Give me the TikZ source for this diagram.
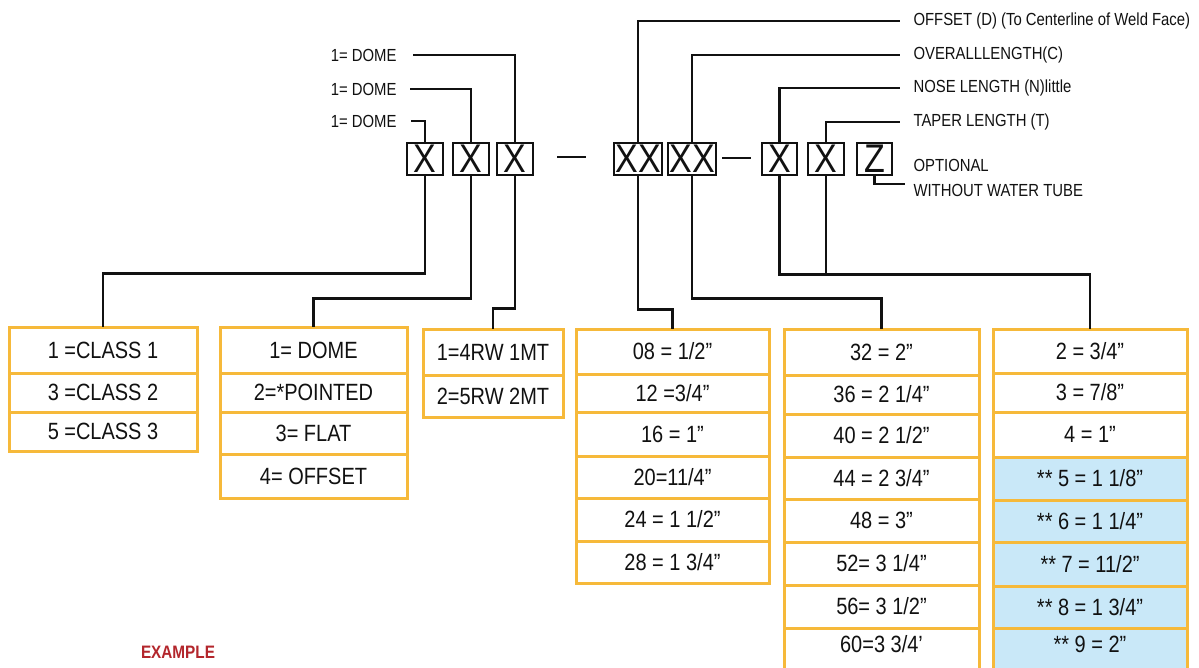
\documentclass[tikz,border=0pt]{standalone}
\usepackage{fontspec}
\setmainfont{Liberation Sans}[FakeStretch=0.85]
\usepackage{xcolor}
\definecolor{Ink}{HTML}{111111}
\definecolor{Amber}{HTML}{F6B93A}
\definecolor{Sky}{HTML}{C9E8F8}
\definecolor{Brick}{HTML}{B3262C}
\tikzset{
  codebox/.style={draw=Ink,line width=2.2pt,inner sep=0pt,minimum width=36,minimum height=32,
    font=\fontsize{40}{40}\selectfont,text=Ink},
  cell/.style={draw=Amber,line width=3pt,inner sep=0pt,outer sep=0pt,
    font=\fontsize{23.5}{26}\selectfont,text=Ink},
  hot/.style={cell,fill=Sky},
  lastrow/.style={text depth=12pt},
  tag/.style={font=\fontsize{17.5}{20}\selectfont,text=Ink},
  wire/.style={draw=Ink,line width=2.8pt}
}
\begin{document}
\begin{tikzpicture}[x=1pt,y=-1pt]
\path[use as bounding box,fill=white] (0,0) rectangle (1199,667);
\node[codebox] (bx1) at (425,159) {X};
\node[codebox] (bx2) at (471,159) {X};
\node[codebox] (bx3) at (515,159) {X};
\node[codebox,minimum width=48] (xx1) at (638,159) {XX};
\node[codebox,minimum width=48] (xx2) at (692,159) {XX};
\node[codebox,minimum width=35] (bx4) at (779.5,159) {X};
\node[codebox] (bx5) at (826,159) {X};
\node[codebox,minimum width=35] (bz) at (874.5,159) {Z};
\draw[line width=2.4pt,draw=Ink] ([xshift=23,yshift=2]bx3.east) -- ([xshift=-27,yshift=2]xx1.west);
\draw[line width=2.4pt,draw=Ink] ([xshift=5,yshift=1]xx2.east) -- ([xshift=-10,yshift=1]bx4.west);
\node[tag,anchor=east] (domeC) at (400,55) {1= DOME};
\node[tag,anchor=east] (domeB) at (400,89) {1= DOME};
\node[tag,anchor=east] (domeA) at (400,121) {1= DOME};
\node[tag,anchor=west] (offset) at (910,21) {OFFSET (D) (To Centerline of Weld Face)};
\node[tag,anchor=west] (overall) at (910,55) {OVERALLLENGTH(C)};
\node[tag,anchor=west] (nose) at (910,88) {NOSE LENGTH (N)little};
\node[tag,anchor=west] (taper) at (910,122) {TAPER LENGTH (T)};
\node[tag,anchor=west] (optional) at (910,165) {OPTIONAL};
\node[tag,anchor=west] (notube) at (910,190) {WITHOUT WATER TUBE};
\node[cell,minimum width=188,minimum height=46] (t1r1) at (103,350) {1 =CLASS 1};
\node[cell,minimum width=188,minimum height=39] (t1r2) at (103,392.5) {3 =CLASS 2};
\node[cell,minimum width=188,minimum height=39] (t1r3) at (103,431.5) {5 =CLASS 3};
\node[cell,minimum width=187,minimum height=46] (t2r1) at (313.5,350) {1= DOME};
\node[cell,minimum width=187,minimum height=39] (t2r2) at (313.5,392.5) {2=*POINTED};
\node[cell,minimum width=187,minimum height=42] (t2r3) at (313.5,433) {3= FLAT};
\node[cell,minimum width=187,minimum height=44] (t2r4) at (313.5,476) {4= OFFSET};
\node[cell,minimum width=140,minimum height=46] (t3r1) at (493,352) {1=4RW 1MT};
\node[cell,minimum width=140,minimum height=42] (t3r2) at (493,396) {2=5RW 2MT};
\node[cell,minimum width=193,minimum height=45] (t4r1) at (672.5,351.5) {08 = 1/2”};
\node[cell,minimum width=193,minimum height=38] (t4r2) at (672.5,393) {12 =3/4”};
\node[cell,minimum width=193,minimum height=44] (t4r3) at (672.5,434) {16 = 1”};
\node[cell,minimum width=193,minimum height=42] (t4r4) at (672.5,477) {20=11/4”};
\node[cell,minimum width=193,minimum height=43] (t4r5) at (672.5,519.5) {24 = 1 1/2”};
\node[cell,minimum width=193,minimum height=42] (t4r6) at (672.5,562) {28 = 1 3/4”};
\node[cell,minimum width=195,minimum height=46] (t5r1) at (881.5,352) {32 = 2”};
\node[cell,minimum width=195,minimum height=39] (t5r2) at (881.5,394.5) {36 = 2 1/4”};
\node[cell,minimum width=195,minimum height=43] (t5r3) at (881.5,435.5) {40 = 2 1/2”};
\node[cell,minimum width=195,minimum height=42] (t5r4) at (881.5,478) {44 = 2 3/4”};
\node[cell,minimum width=195,minimum height=43] (t5r5) at (881.5,520.5) {48 = 3”};
\node[cell,minimum width=195,minimum height=43] (t5r6) at (881.5,563.5) {52= 3 1/4”};
\node[cell,minimum width=195,minimum height=43] (t5r7) at (881.5,606.5) {56= 3 1/2”};
\node[cell,lastrow,minimum width=195,minimum height=44] (t5r8) at (881.5,650) {60=3 3/4’};
\node[cell,minimum width=194,minimum height=44] (t6r1) at (1090,351) {2 = 3/4”};
\node[cell,minimum width=194,minimum height=39] (t6r2) at (1090,392.5) {3 = 7/8”};
\node[cell,minimum width=194,minimum height=45] (t6r3) at (1090,434.5) {4 = 1”};
\node[hot,minimum width=194,minimum height=43] (t6r4) at (1090,478.5) {** 5 = 1 1/8”};
\node[hot,minimum width=194,minimum height=42] (t6r5) at (1090,521) {** 6 = 1 1/4”};
\node[hot,minimum width=194,minimum height=44] (t6r6) at (1090,564) {** 7 = 11/2”};
\node[hot,minimum width=194,minimum height=42] (t6r7) at (1090,607) {** 8 = 1 3/4”};
\node[hot,lastrow,minimum width=194,minimum height=44] (t6r8) at (1090,650) {** 9 = 2”};
\node[font=\fontsize{18}{20}\selectfont\bfseries,text=Brick] (example) at (178,652) {EXAMPLE};
\draw[wire] ([xshift=11]domeA.east) -| (bx1.north);
\draw[wire] ([xshift=10]domeB.east) -| (bx2.north);
\draw[wire] ([xshift=13]domeC.east) -| (bx3.north);
\draw[wire] (xx1.north) |- ([xshift=-10]offset.west);
\draw[wire] (xx2.north) |- ([xshift=-10]overall.west);
\draw[wire] (bx4.north) |- ([xshift=-10]nose.west);
\draw[wire] (bx5.north) |- ([xshift=-10]taper.west);
\draw[wire] (bz.south) |- ([xshift=-5,yshift=6]notube.west);
\draw[wire] (bx1.south) -- ++(0,97) -| (t1r1.north);
\draw[wire] (bx2.south) -- ++(0,122) -| (t2r1.north);
\draw[wire] (bx3.south) -- ++(0,132) -| (t3r1.north);
\draw[wire] (xx1.south) -- ++(0,133) -| (t4r1.north);
\draw[wire] (xx2.south) -- ++(0,122) -| (t5r1.north);
\draw[wire] (bx4.south) -- ++(0,98) -| (t6r1.north);
\draw[wire] (bx5.south) -- ++(0,98);
\end{tikzpicture}
\end{document}
